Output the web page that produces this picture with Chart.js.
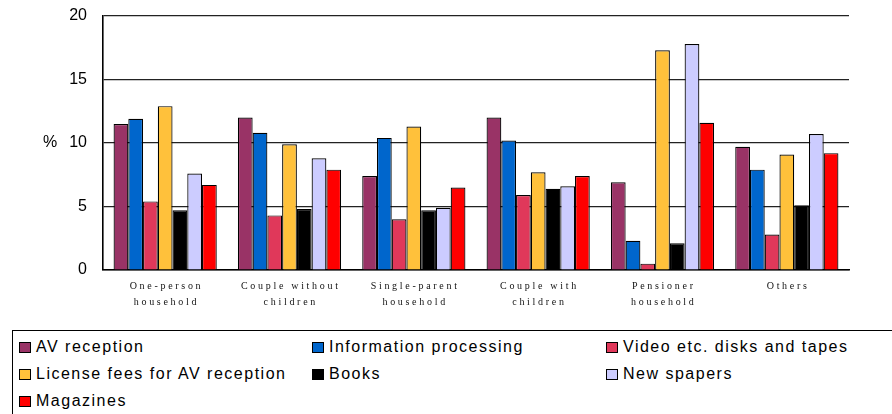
<!DOCTYPE html>
<html>
<head>
<meta charset="utf-8">
<script src="https://cdn.jsdelivr.net/npm/chart.js@4"></script>
<style>
  body { margin: 0; background: #fff; }
  #wrap { position: relative; width: 892px; height: 414px; overflow: hidden; }
  #chart { position: absolute; left: 0; top: 0; }
  #legend {
    position: absolute; left: 12px; top: 330px; width: 920px; height: 120px;
    border-left: 1.5px solid #000; border-top: 1.5px solid #000;
    font-family: "Liberation Sans", Arial, sans-serif; font-size: 16px; letter-spacing: 1.5px;
  }
  .item { position: absolute; display: flex; align-items: center; white-space: nowrap; }
  .box { width: 10px; height: 9px; border: 1.5px solid #000; margin-right: 5px; }
</style>
</head>
<body>
<div id="wrap">
  <canvas id="chart" width="892" height="330"></canvas>
  <div id="legend"></div>
</div>
<script>
// ------------------------------
// Data
// ------------------------------
const categories = [
  ["One-person", "household"],
  ["Couple without", "children"],
  ["Single-parent", "household"],
  ["Couple with", "children"],
  ["Pensioner", "household"],
  ["Others"]
];

const avReception   = [11.5, 12.0, 7.4, 12.0, 6.9, 9.7];
const infoProcess   = [11.9, 10.8, 10.4, 10.2, 2.3, 7.9];
const videoDisks    = [5.4, 4.3, 4.0, 5.9, 0.5, 2.8];
const licenseFees   = [12.9, 9.9, 11.3, 7.7, 17.3, 9.1];
const books         = [4.7, 4.8, 4.7, 6.4, 2.1, 5.1];
const newspapers    = [7.6, 8.8, 4.9, 6.6, 17.8, 10.7];
const magazines     = [6.7, 7.9, 6.5, 7.4, 11.6, 9.2];

const yTicks = [0, 5, 10, 15, 20];

// ------------------------------
// Chart
// ------------------------------
function ds(label, data, color) {
  return {
    label: label,
    data: data,
    backgroundColor: color,
    borderColor: "#000",
    borderWidth: 1.2,
    borderSkipped: "bottom",
    barPercentage: 1,
    categoryPercentage: 0.83
  };
}

// x labels drawn with letter spacing, "%" label beside the y axis
const labelPlugin = {
  id: "labels",
  afterDraw(chart) {
    const ctx = chart.ctx;
    const x = chart.scales.x;
    const y = chart.scales.y;
    ctx.save();
    ctx.fillStyle = "#111";
    ctx.textAlign = "center";
    ctx.textBaseline = "middle";
    ctx.font = "10px 'Liberation Serif', 'Times New Roman', serif";
    ctx.letterSpacing = "2.7px";
    categories.forEach((lines, i) => {
      const cx = x.getPixelForValue(i) + 1.3;
      lines.forEach((t, j) => ctx.fillText(t, cx, 286 + j * 16));
    });
    ctx.letterSpacing = "0px";
    ctx.font = "16px 'Liberation Sans', Arial, sans-serif";
    ctx.fillStyle = "#000";
    ctx.fillText("%", 50, y.getPixelForValue(10));
    ctx.restore();
  }
};

const chart = new Chart(
  document.getElementById("chart"),
  {
    type: "bar",
    data: {
      labels: categories,
      datasets: [
        ds("AV reception", avReception, "#993366"),
        ds("Information processing", infoProcess, "#0066CC"),
        ds("Video etc. disks and tapes", videoDisks, "#E0385A"),
        ds("License fees for AV reception", licenseFees, "#FFC13B"),
        ds("Books", books, "#000000"),
        ds("New spapers", newspapers, "#CCCCFF"),
        ds("Magazines", magazines, "#FF0000")
      ]
    },
    options: {
      responsive: false,
      animation: false,
      layout: { padding: { left: 0, right: 43, top: 16, bottom: 0 } },
      plugins: {
        legend: { display: false },
        tooltip: { enabled: false }
      },
      scales: {
        x: {
          grid: { display: false, drawTicks: false },
          border: { color: "#000", width: 1.6 },
          ticks: { display: false },
          afterFit: (s) => { s.height = 60; s.paddingLeft = 0; s.paddingRight = 0; }
        },
        y: {
          min: 0,
          max: 20,
          afterBuildTicks: (s) => { s.ticks = yTicks.map(v => ({ value: v })); },
          grid: { color: "#222", lineWidth: 1.2, drawTicks: false },
          border: { color: "#000", width: 1.6 },
          ticks: {
            padding: 16,
            color: "#000",
            font: { family: "'Liberation Sans', Arial, sans-serif", size: 16 }
          },
          afterFit: (s) => { s.width = 103; s.paddingTop = 0; s.paddingBottom = 0; }
        }
      }
    },
    plugins: [labelPlugin]
  }
);

// ------------------------------
// Legend (3 columns)
// ------------------------------
const legend = document.getElementById("legend");
const colX = [6, 299, 593];
const rowY = [16, 43, 70];
chart.data.datasets.forEach((d, i) => {
  const item = document.createElement("div");
  item.className = "item";
  item.style.left = colX[i % 3] + "px";
  item.style.top = (rowY[Math.floor(i / 3)] - 10) + "px";
  item.style.height = "20px";
  const box = document.createElement("span");
  box.className = "box";
  box.style.background = d.backgroundColor;
  const txt = document.createElement("span");
  txt.textContent = d.label;
  item.appendChild(box);
  item.appendChild(txt);
  legend.appendChild(item);
});
</script>
</body>
</html>
